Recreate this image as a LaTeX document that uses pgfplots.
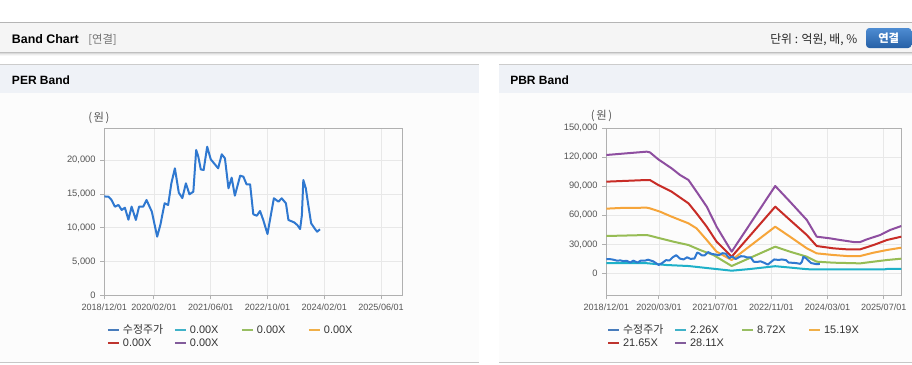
\documentclass[border=0pt]{standalone}
\usepackage{fontspec}
\setmainfont{Liberation Sans}
\newfontfamily\kr{Noto Sans CJK KR}
\usepackage{pgfplots}
\usepackage{pgfplotstable}
\pgfplotsset{compat=1.18}

\definecolor{cPrice}{RGB}{47,120,208}
\definecolor{cCyan}{RGB}{30,176,200}
\definecolor{cGreen}{RGB}{150,188,84}
\definecolor{cOrange}{RGB}{246,165,58}
\definecolor{cRed}{RGB}{200,44,38}
\definecolor{cPurple}{RGB}{142,78,160}
\definecolor{lBlue}{RGB}{72,124,188}
\definecolor{lCyan}{RGB}{64,178,200}
\definecolor{lGreen}{RGB}{152,190,98}
\definecolor{lOrange}{RGB}{240,175,72}
\definecolor{lRed}{RGB}{190,52,46}
\definecolor{lPurple}{RGB}{130,92,155}
\definecolor{axisgray}{RGB}{176,176,176}
\definecolor{gridgray}{RGB}{232,232,232}
\definecolor{ticktext}{RGB}{85,85,85}
\definecolor{panelhead}{RGB}{239,242,247}
\definecolor{btntop}{RGB}{78,140,210}
\definecolor{btnbot}{RGB}{38,96,166}

\newcommand{\lgt}[1]{\makebox[40.5pt][l]{\hspace{2.25pt}#1}}

\pgfplotstableread{
m v
0 14650
1.2 14600
2.0 14150
3.0 13130
4.0 13380
4.9 12640
5.8 12980
6.8 11200
7.7 13140
8.9 11160
9.8 13140
11.0 13140
11.9 14120
13.4 12390
14.9 8690
15.8 10420
17.0 13630
18.0 13380
18.9 16590
19.9 18810
21.0 15200
22.0 14400
23.0 16590
24.0 14960
25.1 15350
25.9 21530
26.5 20540
27.2 18650
28.0 18560
29.0 22010
30.0 20150
32.1 18810
33.1 20890
34.0 20300
35.0 15850
35.9 17430
36.8 14760
38.3 17720
39.2 17580
40.1 16440
41.1 16440
42.0 12000
43.0 11790
43.9 12490
44.8 11160
46.0 9080
46.7 11160
47.8 14370
49.1 13870
50.0 14370
51.2 13630
51.9 11160
53.5 10810
54.4 10410
55.2 9820
55.7 11900
56.1 17080
56.8 15850
57.5 13380
58.3 10670
59.4 9820
60.0 9420
60.8 9780
}\pricetbl

\pgfplotstableread{
m v
0 122400
11.5 125850
12.4 125160
14.8 117900
18.6 108600
21.0 101700
23.4 96540
25.7 84470
28.6 68960
31.4 48270
35.7 22410
48.1 90340
52.3 74130
57.1 55170
59.9 37930
63.7 36200
66.6 34480
70.4 32410
72.3 32410
74.2 35170
78.0 39650
80.8 44820
84.0 48960
}\purpletbl

\pgfplotstableread{
m v
0 94820
11.5 96540
12.4 96540
14.8 91370
18.6 84470
23.4 72400
25.7 62060
28.6 48270
31.4 32760
35.7 17240
48.1 68960
52.3 55170
57.1 39650
59.9 28270
64.7 25860
68.5 24830
72.3 24830
76.1 29310
79.9 34480
84.0 37930
}\redtbl

\pgfplotstableread{
m v
0 66890
3.9 67580
11.5 67920
12.4 67240
15.3 63790
18.6 58620
23.4 51720
25.7 46550
28.6 34480
31.4 22410
35.7 13790
48.1 48270
52.3 37930
57.1 25860
59.9 20690
64.7 18960
68.5 17930
72.3 17930
76.1 21380
79.9 24140
84.0 26550
}\orangetbl

\pgfplotstableread{
m v
0 38620
11.5 39650
12.4 38960
15.3 36200
19.1 32760
23.4 29310
26.7 24140
30.5 18960
35.7 7590
48.1 27580
52.3 22410
57.1 17240
59.9 12070
64.7 11030
72.3 10340
76.1 12070
79.9 13790
84.0 15170
}\greentbl

\pgfplotstableread{
m v
0 10500
11.5 10500
17.2 8620
23.4 7590
29.5 5170
35.7 2760
40.9 4480
48.1 7400
52.3 6000
57.1 4300
59.9 4000
79.0 4000
80.0 4600
84.0 4600
}\cyantbl

\pgfplotsset{
  bandaxis/.style={
    scale only axis,
    height=125.25pt,
    anchor=south west,
    clip mode=individual,
    axis line style={axisgray, line width=0.75pt},
    grid=major,
    major grid style={gridgray, line width=0.6pt},
    tick align=outside,
    xtick pos=bottom, ytick pos=left,
    major tick length=3pt,
    tick style={axisgray, line width=0.75pt},
    xmin=0, xmax=84,
    x tick label style={font=\fontsize{6.8}{8}\selectfont, text=ticktext},
    y tick label style={font=\fontsize{7}{8}\selectfont, text=ticktext},
    scaled y ticks=false,
    /pgf/number format/fixed,
    /pgf/number format/1000 sep={,},
    /pgf/number format/assume math mode=true,
    legend columns=4,
    legend cell align=left,
    legend image code/.code={\draw[##1, line width=1.5pt] (0pt,0pt) -- (8.25pt,0pt);},
    legend style={draw=none, fill=none, inner xsep=0pt, inner ysep=0pt,
      font=\fontsize{8.2}{9}\selectfont, text=black!80,
      nodes={inner sep=0pt, text height=6pt, text depth=1.75pt},
      /tikz/column sep=0pt, /tikz/row sep=2pt,
      anchor=north west},
  }
}

\begin{document}
\begin{tikzpicture}
\useasboundingbox (0,0) rectangle (684pt,-273pt);
\fill[white] (0,0) rectangle (684pt,-273pt);
% top header bar
\fill[black!4] (0,-17.25pt) rectangle (684pt,-39pt);
\draw[black!29, line width=0.75pt] (0,-16.875pt) -- (684pt,-16.875pt);
\draw[black!25, line width=0.75pt] (0,-39.375pt) -- (684pt,-39.375pt);
\draw[black!14, line width=0.75pt] (0,-40.125pt) -- (684pt,-40.125pt);
\draw[black!7, line width=0.75pt] (0,-40.875pt) -- (684pt,-40.875pt);
\draw[black!3, line width=0.75pt] (0,-41.625pt) -- (684pt,-41.625pt);
\node[anchor=base west, inner sep=0pt, font=\fontsize{9.3}{11}\selectfont\bfseries] at (8.8pt,-32.3pt) {Band Chart};
\node[anchor=base west, inner sep=0pt, font=\fontsize{8.5}{10}\selectfont\kr, text=black!55] at (66pt,-32.3pt) {[연결]};
\node[anchor=base west, inner sep=0pt, font=\fontsize{8.9}{10}\selectfont\kr, text=black!85] at (577.5pt,-32.3pt) {단위 : 억원, 배, \%};
\shade[top color=btntop, bottom color=btnbot, rounded corners=2.5pt] (649.5pt,-21pt) rectangle (683.6pt,-36pt);
\node[inner sep=0pt, font=\fontsize{8.5}{10}\selectfont\kr\bfseries, text=white] at (666.5pt,-28.5pt) {연결};
% panels
\fill[panelhead] (0pt,-48pt) rectangle (359.25pt,-69.375pt);
\fill[panelhead] (374.25pt,-48pt) rectangle (684pt,-69.375pt);
\draw[black!20, line width=0.75pt] (0pt,-48.375pt) -- (359.25pt,-48.375pt);
\draw[black!20, line width=0.75pt] (374.25pt,-48.375pt) -- (684pt,-48.375pt);
\fill[black!1] (0pt,-69.375pt) rectangle (359.25pt,-271.5pt);
\fill[black!1] (374.25pt,-69.375pt) rectangle (684pt,-271.5pt);
\draw[black!22, line width=0.75pt] (0pt,-271.875pt) -- (359.25pt,-271.875pt);
\draw[black!22, line width=0.75pt] (374.25pt,-271.875pt) -- (684pt,-271.875pt);
\node[anchor=base west, inner sep=0pt, font=\fontsize{9}{11}\selectfont\bfseries] at (8.8pt,-63.5pt) {PER Band};
\node[anchor=base west, inner sep=0pt, font=\fontsize{9}{11}\selectfont\bfseries] at (382.5pt,-63.5pt) {PBR Band};

% PER axis
\begin{axis}[bandaxis,
  at={(78.225pt,-221.475pt)}, width=223.5pt,
  ymin=0, ymax=24740,
  ytick={0,5000,10000,15000,20000},
  xtick={0,14,30,46,62,78},
  xticklabels={2018/12/01,2020/02/01,2021/06/01,2022/10/01,2024/02/01,2025/06/01},
  legend style={at={(0.008,-0.178)}},
]
\addplot[cPrice, line width=1.5pt, line join=round, forget plot] table[x=m,y=v]{\pricetbl};
\addlegendimage{lBlue}\addlegendentry{\lgt{\kr 수정주가}}
\addlegendimage{lCyan}\addlegendentry{\lgt{0.00X}}
\addlegendimage{lGreen}\addlegendentry{\lgt{0.00X}}
\addlegendimage{lOrange}\addlegendentry{\lgt{0.00X}}
\addlegendimage{lRed}\addlegendentry{\lgt{0.00X}}
\addlegendimage{lPurple}\addlegendentry{\lgt{0.00X}}
\node[font=\fontsize{8.5}{10}\selectfont\kr, text=ticktext, inner sep=0pt] at (rel axis cs:-0.018,1.062) {(\hspace{1.2pt}원\hspace{1.2pt})};
\end{axis}

% PBR axis
\begin{axis}[bandaxis,
  at={(454.725pt,-221.475pt)}, width=221.25pt,
  ymin=-22700, ymax=150000,
  ytick={0,30000,60000,90000,120000,150000},
  xtick={0,15,31,47,63,79},
  xticklabels={2018/12/01,2020/03/01,2021/07/01,2022/11/01,2024/03/01,2025/07/01},
  legend style={at={(0.002,-0.178)}},
]
\addplot[cPurple, line width=1.5pt, line join=round, forget plot] table[x=m,y=v]{\purpletbl};
\addplot[cRed, line width=1.5pt, line join=round, forget plot] table[x=m,y=v]{\redtbl};
\addplot[cOrange, line width=1.5pt, line join=round, forget plot] table[x=m,y=v]{\orangetbl};
\addplot[cGreen, line width=1.5pt, line join=round, forget plot] table[x=m,y=v]{\greentbl};
\addplot[cCyan, line width=1.5pt, line join=round, forget plot] table[x=m,y=v]{\cyantbl};
\addplot[cPrice, line width=1.5pt, line join=round, forget plot] table[x=m,y=v]{\pricetbl};
\addlegendimage{lBlue}\addlegendentry{\lgt{\kr 수정주가}}
\addlegendimage{lCyan}\addlegendentry{\lgt{2.26X}}
\addlegendimage{lGreen}\addlegendentry{\lgt{8.72X}}
\addlegendimage{lOrange}\addlegendentry{\lgt{15.19X}}
\addlegendimage{lRed}\addlegendentry{\lgt{21.65X}}
\addlegendimage{lPurple}\addlegendentry{\lgt{28.11X}}
\node[font=\fontsize{8.5}{10}\selectfont\kr, text=ticktext, inner sep=0pt] at (rel axis cs:-0.016,1.073) {(\hspace{1.2pt}원\hspace{1.2pt})};
\end{axis}
\end{tikzpicture}
\end{document}
